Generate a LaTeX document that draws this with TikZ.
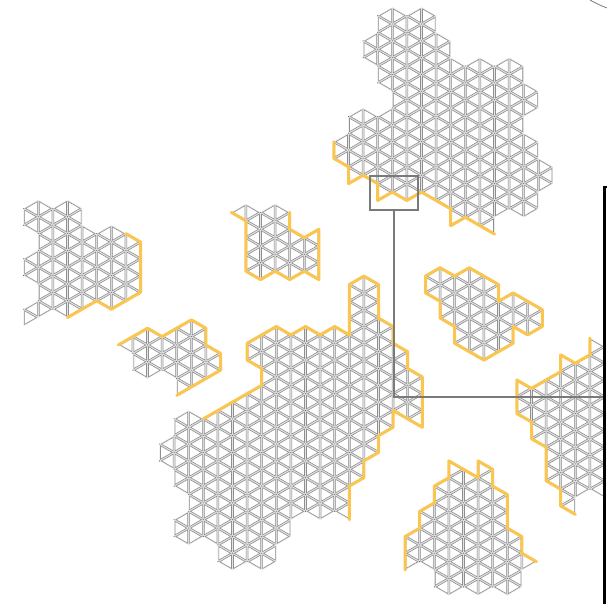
\documentclass[tikz,border=0pt]{standalone}
\usepackage{tikz}
\definecolor{edgegold}{HTML}{FAC650}
\definecolor{cellgrey}{HTML}{8F8F8F}
\definecolor{gapgrey}{HTML}{DEDEDE}
\definecolor{knotgrey}{HTML}{5A5A5A}
\definecolor{leadgrey}{HTML}{7A7A7A}
\tikzstyle{cell} = [draw=cellgrey, fill=white, line width=0.6pt, line join=miter]
\tikzstyle{rim} = [draw=edgegold, line width=3pt, line join=round, line cap=round]
\tikzstyle{zoomframe} = [rectangle, draw=leadgrey, line width=1.4pt, minimum width=48pt, minimum height=34pt, inner sep=0pt]
\tikzstyle{lead} = [draw=leadgrey, line width=1.3pt]
% one column of triangles, rows #2 to #3
\newcommand{\cellstrip}[3]{%
  \foreach \k in {#2,...,#3}{
    \ifodd\numexpr#1+\k\relax
      \fill[gapgrey] (#1,\k-1) -- (#1,\k+1) -- (#1+1,\k) -- cycle;
      \draw[cell] (#1+.067,\k-.8) -- (#1+.067,\k+.8) -- (#1+.867,\k) -- cycle;
    \else
      \fill[gapgrey] (#1,\k) -- (#1+1,\k-1) -- (#1+1,\k+1) -- cycle;
      \draw[cell] (#1+.133,\k) -- (#1+.933,\k-.8) -- (#1+.933,\k+.8) -- cycle;
      \fill[knotgrey] (#1,\k) circle[radius=0.6pt];
    \fi
  }}
\begin{document}
\begin{tikzpicture}[x=1pt, y=-1pt]
\fill[white] (0,0) rectangle (607,604);
\useasboundingbox (0,0) rectangle (607,604);

% top island
\begin{scope}[shift={(12.7,7.3)}, x=14.6pt, y=-8.4pt]
\foreach \c/\a/\b in {22/16/18, 23/13/20, 24/4/6, 24/13/20, 25/1/9, 25/13/22, 26/1/22, 27/1/22,
  28/1/22, 29/4/23, 30/7/25, 31/7/25, 32/7/26, 33/7/24, 34/7/24, 35/10/12, 35/16/24, 36/19/21}
  \cellstrip{\c}{\a}{\b};
\draw[rim] (22,16) -- (22,18) -- (23,19) -- (23,21) -- (24,20) -- (25,21) -- (25,23) -- (26,22)
  -- (27,23) -- (28,22) -- (30,24) -- (30,26) -- (31,25) -- (33,27);
\end{scope}

% left island
\begin{scope}[shift={(9.1,15.2)}, x=14.6pt, y=-8.4pt]
\foreach \c/\a/\b in {1/23/25, 1/29/31, 1/35/36, 2/23/35, 3/23/35, 4/23/35, 5/26/34, 6/26/34,
  7/26/34, 8/27/33}
  \cellstrip{\c}{\a}{\b};
\draw[rim] (8,26) -- (9,27) -- (9,33) -- (7,35) -- (6,34) -- (4,36);
\end{scope}

% small island under it
\begin{scope}[shift={(16.1,0.6)}, x=14.6pt, y=-8.4pt]
\foreach \c/\a/\b in {7/41/41, 8/40/44, 9/40/44, 10/40/44, 11/39/46, 12/39/45, 13/42/44}
  \cellstrip{\c}{\a}{\b};
\draw[rim] (7,41) -- (9,39) -- (10,40) -- (12,38) -- (13,39) -- (13,41) -- (14,42) -- (14,44) -- (11,47);
\end{scope}

% middle island
\begin{scope}[shift={(12.3,2.4)}, x=14.6pt, y=-8.4pt]
\foreach \c/\a/\b in {15/25/25, 16/25/32, 17/25/32, 18/25/32, 19/28/32, 20/28/32}
  \cellstrip{\c}{\a}{\b};
\draw[rim] (15,25) -- (16,26) -- (16,32) -- (17,33) -- (18,32) -- (19,33) -- (20,32) -- (21,33)
  -- (21,27) -- (20,28) -- (19,27) -- (19,25);
\end{scope}

% closed island
\begin{scope}[shift={(16.7,7.3)}, x=14.6pt, y=-8.4pt]
\foreach \c/\a/\b in {28/32/34, 29/32/37, 30/32/40, 31/32/41, 32/33/41, 33/35/40, 34/35/38, 35/36/38}
  \cellstrip{\c}{\a}{\b};
\draw[rim] (28,32) -- (29,31) -- (30,32) -- (31,31) -- (33,33) -- (33,35) -- (34,34) -- (36,36)
  -- (36,38) -- (35,39) -- (34,38) -- (34,40) -- (32,42) -- (30,40) -- (30,38) -- (29,37)
  -- (29,35) -- (28,34) -- cycle;
\end{scope}

% large island
\begin{scope}[shift={(13.5,7.3)}, x=14.6pt, y=-8.4pt]
\foreach \c/\a/\b in {10/52/54, 11/49/57, 11/61/63, 12/49/63, 13/49/63, 14/48/66, 15/47/66, 16/46/66,
  16/40/42, 17/39/66, 18/39/63, 19/39/60, 20/39/60, 21/39/60, 22/39/60, 23/33/56, 24/33/53,
  25/38/50, 26/41/48, 27/44/49}
  \cellstrip{\c}{\a}{\b};
\draw[rim] (13,49) -- (17,45) -- (17,43) -- (16,42) -- (16,40) -- (18,38) -- (19,39) -- (20,38)
  -- (21,39) -- (22,38) -- (23,39) -- (23,33) -- (24,32) -- (25,33) -- (25,37) -- (26,38) -- (26,40)
  -- (27,41) -- (27,43) -- (28,44) -- (28,50) -- (26,48) -- (26,50) -- (25,51) -- (25,53) -- (24,54)
  -- (24,56) -- (23,57) -- (23,61);
\end{scope}

% bottom island
\begin{scope}[shift={(10.9,7.3)}, x=14.6pt, y=-8.4pt]
\foreach \c/\a/\b in {27/63/66, 28/60/66, 29/57/69, 30/55/69, 31/56/69, 32/55/69, 33/58/69, 34/63/69, 35/66/66}
  \cellstrip{\c}{\a}{\b};
\draw[rim] (27,67) -- (27,63) -- (28,62) -- (28,60) -- (29,59) -- (29,57) -- (30,56) -- (30,54)
  -- (32,56) -- (32,54) -- (33,55) -- (33,57) -- (34,58) -- (34,62) -- (35,63) -- (35,65) -- (36,66);
\end{scope}

% right island
\begin{scope}[shift={(5.9,2)}, x=14.6pt, y=-8.4pt]
\foreach \c/\a/\b in {35/46/49, 36/46/52, 37/45/57, 38/43/60, 39/43/58, 40/41/58}
  \cellstrip{\c}{\a}{\b};
\draw[rim] (40,40) -- (40,42) -- (39,43) -- (38,42) -- (38,44) -- (36,46) -- (35,45) -- (35,49)
  -- (36,50) -- (36,52) -- (37,53) -- (37,57) -- (38,58) -- (38,60) -- (39,61);
\end{scope}

\node (zoombox) [zoomframe] at (394,193) {};
\coordinate (framelink) at (604,397);
\draw [lead] (zoombox.south) |- (framelink);

% frame on the right
\coordinate (frametop) at (607,187);
\coordinate (framebend) at (604.7,187);
\coordinate (framefoot) at (604.7,604);
\draw [black, line width=2.8pt] (frametop) -- (framebend) -- (framefoot);
\coordinate (arcstart) at (590,0);
\coordinate (arcend) at (607,8);
\draw [leadgrey, line width=0.8pt] (arcstart) to[bend right=4] (arcend);

\end{tikzpicture}
\end{document}
